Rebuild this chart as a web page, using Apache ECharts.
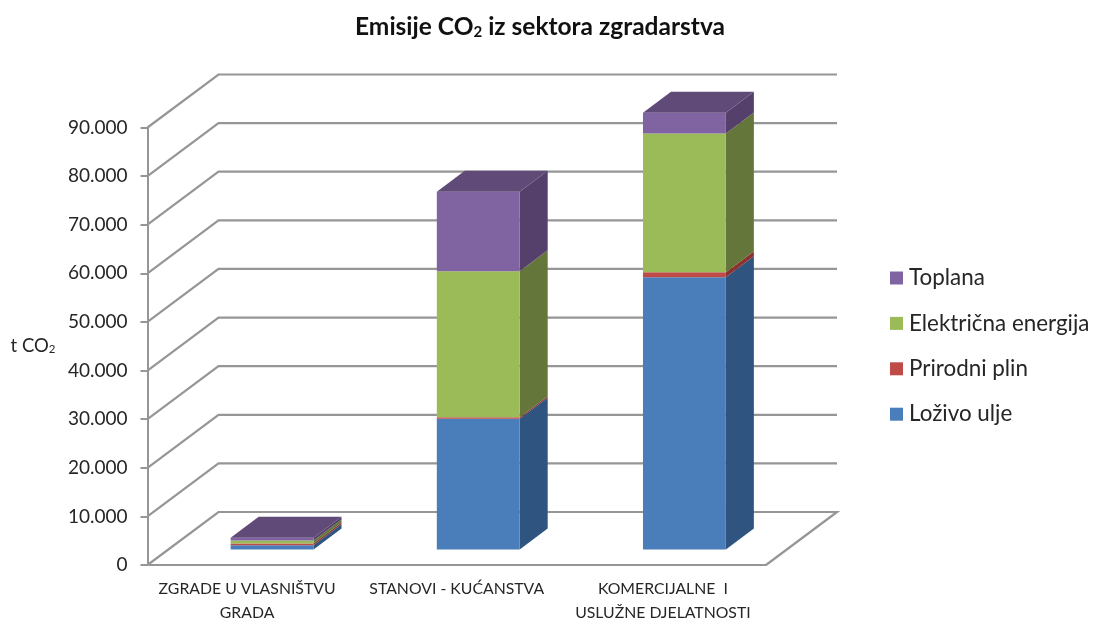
<!DOCTYPE html>
<html>
<head>
<meta charset="utf-8">
<style>html,body{margin:0;padding:0;background:#fff}#chart{width:1093px;height:618px}</style>
<script src="https://cdn.jsdelivr.net/npm/echarts@6/dist/echarts.min.js"></script>
</head>
<body>
<div id="chart"></div>
<script>
// Emisije CO2 po kategorijama zgrada (t CO2)
const categories = ['ZGRADE U VLASNIŠTVU\nGRADA', 'STANOVI - KUĆANSTVA', 'KOMERCIJALNE  I\nUSLUŽNE DJELATNOSTI'];
const lozivoUlje = [900, 26900, 56000];
const prirodniPlin = [350, 300, 1050];
const elektricnaEnergija = [600, 30050, 28550];
const toplana = [550, 16350, 4250];
const axisTicks = [0, 10000, 20000, 30000, 40000, 50000, 60000, 70000, 80000, 90000];

const names = ['Loživo ulje', 'Prirodni plin', 'Električna energija', 'Toplana'];
const stackValues = [lozivoUlje, prirodniPlin, elektricnaEnergija, toplana];
const faceColors = ['#4a7ebb', '#be4b48', '#9bbb59', '#8064a2'];
const sideColors = ['#2f5480', '#8a3331', '#65763a', '#553f6b'];
const topColors = ['#36608f', '#98403d', '#748a42', '#604a78'];

const FONT = 'Lato, "Open Sans", sans-serif';
const TEXT = '#262626';
const GRID_LINE = '#969696';
const WALL_DX = 71, WALL_DY = -53;    // pomak stražnjeg zida
const BAR_DX = 28, BAR_DY = -21;      // dubina stupca
const BAR_OFF_X = 21.5, BAR_OFF_Y = -15.5; // stupac je centriran na podu
const BAR_RATIO = 0.402;

function thousands(v) {
  return String(v).replace(/\B(?=(\d{3})+$)/g, '.');
}

// Perspektivne linije mreže: kosi dio uz lijevi zid i vodoravni dio na stražnjem zidu
function renderWall(params, api) {
  const cs = params.coordSys;
  const y = api.coord([0, api.value(0)])[1];
  const left = cs.x, right = cs.x + cs.width;
  const points = [[left, y], [left + WALL_DX, y + WALL_DY], [right + WALL_DX, y + WALL_DY]];
  if (api.value(0) === 0) points.push([right, y]);
  return {
    type: 'polyline',
    shape: { points },
    style: { stroke: GRID_LINE, lineWidth: 2.2, fill: null }
  };
}

function barRenderer(seriesIdx, isTop) {
  return function (params, api) {
    const i = api.value(0);
    const lo = api.coord([i, api.value(1)]);
    const hi = api.coord([i, api.value(2)]);
    const w = api.size([1, 0])[0] * BAR_RATIO;
    const x0 = lo[0] + BAR_OFF_X - w / 2, x1 = x0 + w;
    const yb = lo[1] + BAR_OFF_Y, yt = hi[1] + BAR_OFF_Y;
    const children = [
      { type: 'polygon',
        shape: { points: [[x1, yb], [x1 + BAR_DX, yb + BAR_DY], [x1 + BAR_DX, yt + BAR_DY], [x1, yt]] },
        style: { fill: sideColors[seriesIdx] } },
      { type: 'rect',
        shape: { x: x0, y: yt, width: w, height: yb - yt },
        style: { fill: faceColors[seriesIdx] } }
    ];
    if (isTop) {
      children.push({ type: 'polygon',
        shape: { points: [[x0, yt], [x1, yt], [x1 + BAR_DX, yt + BAR_DY], [x0 + BAR_DX, yt + BAR_DY]] },
        style: { fill: topColors[seriesIdx] } });
    }
    return { type: 'group', children };
  };
}

const running = categories.map(() => 0);
const barSeries = names.map((name, s) => ({
  type: 'custom',
  name,
  z: 3 + s,
  itemStyle: { color: faceColors[s] },
  renderItem: barRenderer(s, s === names.length - 1),
  encode: { x: 0, y: [1, 2] },
  data: stackValues[s].map((v, i) => {
    const row = [i, running[i], running[i] + v];
    running[i] += v;
    return row;
  })
}));

const chart = echarts.init(document.getElementById('chart'), null, { renderer: 'canvas' });
chart.setOption({
  animation: false,
  backgroundColor: '#fff',
  title: {
    text: 'Emisije CO{sub|2} iz sektora zgradarstva',
    left: 535, top: 10, textAlign: 'center',
    textStyle: {
      fontFamily: FONT, fontSize: 24.5, fontWeight: 'bold', color: '#111',
      rich: { sub: { fontFamily: FONT, fontSize: 15, fontWeight: 'bold', color: '#111', verticalAlign: 'bottom', padding: [9, 0, 0, 0] } }
    }
  },
  legend: {
    orient: 'vertical',
    left: 885, top: 259,
    data: names.slice().reverse(),
    icon: 'rect',
    itemWidth: 13, itemHeight: 13,
    itemGap: 17.4,
    textStyle: { fontFamily: FONT, fontSize: 22.4, color: TEXT, padding: [0, 0, 0, 1], lineHeight: 28 },
    selectedMode: false
  },
  grid: { left: 147.5, right: 327, top: 127.5, bottom: 53, outerBoundsMode: 'none' },
  xAxis: {
    type: 'category',
    data: categories.map((value, i) => i === 0 ? { value, textStyle: { padding: [0, 7, 0, 0] } } : value),
    axisLine: { lineStyle: { color: GRID_LINE, width: 2 } },
    axisTick: { length: 4, lineStyle: { color: GRID_LINE, width: 2 } },
    axisLabel: { fontFamily: FONT, fontSize: 15.8, color: TEXT, margin: 12, lineHeight: 24, interval: 0 }
  },
  yAxis: {
    type: 'value',
    min: 0, max: 90000, interval: 10000,
    name: 't CO{sub|2}',
    nameLocation: 'middle',
    nameRotate: 0,
    nameGap: 92,
    nameTextStyle: {
      fontFamily: FONT, fontSize: 18.5, color: TEXT,
      rich: { sub: { fontFamily: FONT, fontSize: 11.5, color: TEXT, padding: [6, 0, 0, 0] } }
    },
    axisLine: { show: true, lineStyle: { color: GRID_LINE, width: 2 } },
    axisTick: { show: true, length: 7, lineStyle: { color: GRID_LINE, width: 2 } },
    splitLine: { show: false },
    axisLabel: { fontFamily: FONT, fontSize: 19, color: TEXT, margin: 20, formatter: thousands }
  },
  series: [{
    type: 'custom',
    name: 'mreža',
    z: 1,
    silent: true,
    renderItem: renderWall,
    encode: { y: 0 },
    data: axisTicks.map(v => [v])
  }].concat(barSeries)
});
</script>
</body>
</html>
